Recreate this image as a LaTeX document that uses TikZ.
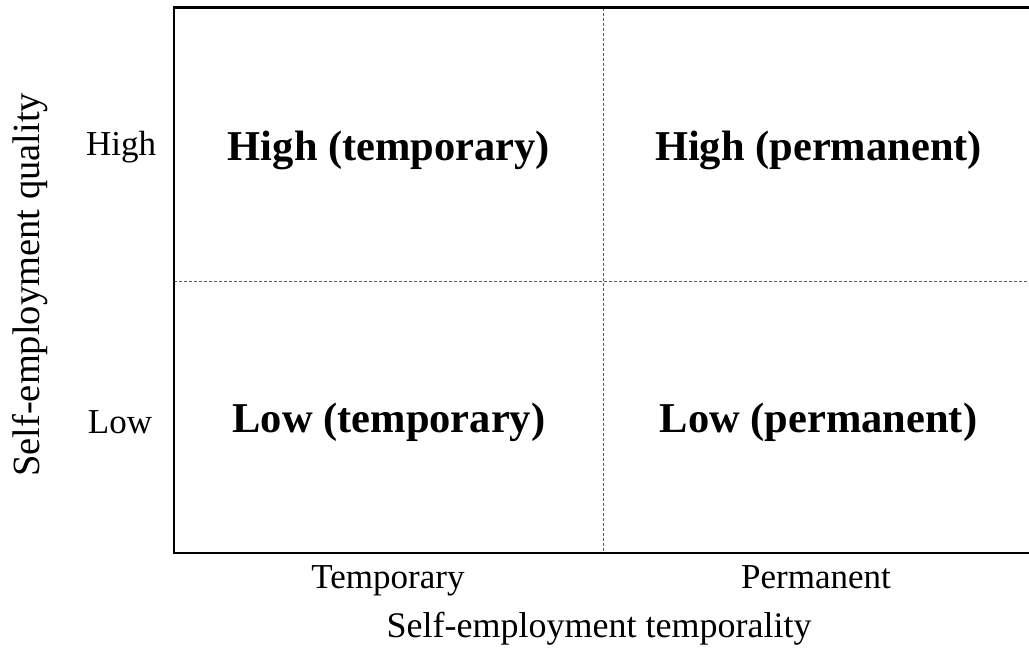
\documentclass[tikz,border=0pt]{standalone}
\usepackage{fontspec}
\setmainfont{Liberation Serif}
\begin{document}
\begin{tikzpicture}[x=1pt,y=-1pt,
  frame/.style={line width=2.5pt},
  divider/.style={line width=0.9pt, color=black!65, dash pattern=on 3pt off 2pt},
  cell/.style={anchor=base, font=\fontsize{42.5}{50}\selectfont\bfseries, inner sep=0pt},
  tick/.style={anchor=base, font=\fontsize{35}{42}\selectfont, inner sep=0pt},
  axtitle/.style={anchor=base, font=\fontsize{36}{43}\selectfont, inner sep=0pt}]
\useasboundingbox (0,0) rectangle (1029,660);
% frame corners
\coordinate (tl) at (174,7.7);
\coordinate (tr) at (1029,7.7);
\coordinate (bl) at (174,553);
\coordinate (br) at (1029,553);
\coordinate (vt) at (603.5,7.7);
\coordinate (vb) at (603.5,553);
\coordinate (hl) at (174,281);
\coordinate (hr) at (1029,281);
\draw[divider] (vt) -- (vb);
\draw[divider] (hl) -- (hr);
\draw[frame] (tr) -- (tl) -- (bl) -- (br);
% cell labels
\node[cell] (ht) at (389,161) {High (temporary)};
\node[cell] (hp) at (818.5,161) {High (permanent)};
\node[cell] (lt) at (389,433) {Low (temporary)};
\node[cell] (lp) at (818.5,433) {Low (permanent)};
% tick labels
\node[tick] (yh) at (121,156) {High};
\node[tick] (yl) at (120,434) {Low};
\node[tick] (xt) at (388,588.5) {Temporary};
\node[tick] (xp) at (816,588.5) {Permanent};
% axis titles
\node[axtitle] (xtitle) at (599,637) {Self-employment temporality};
\node[axtitle, rotate=90, font=\fontsize{38.5}{46}\selectfont] (ytitle) at (39,285) {Self-employment quality};
\end{tikzpicture}
\end{document}
